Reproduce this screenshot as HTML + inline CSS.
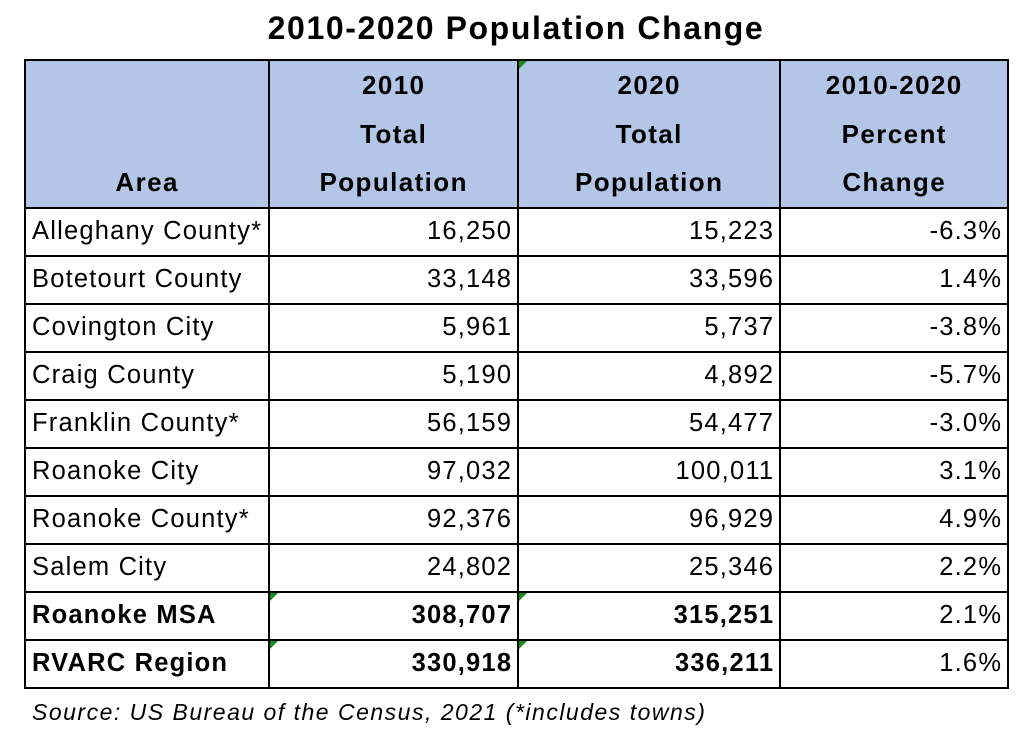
<!DOCTYPE html>
<html><head><meta charset="utf-8"><style>
body{margin:0;width:1032px;height:731px;background:#fff;position:relative;overflow:hidden;font-family:"Gill Sans","Liberation Sans",sans-serif;color:#000}
#title{position:absolute;left:0;width:1032px;top:9px;text-align:center;font-weight:bold;font-size:32px;letter-spacing:1.6px;line-height:38px}
table{position:absolute;left:24px;top:59px;border-collapse:collapse;table-layout:fixed;border:2.5px solid #000}
td,th{border:2px solid #000;padding:0 6px;font-size:25.5px;letter-spacing:1.2px;height:46px;position:relative;white-space:nowrap}
td.n{padding-right:5px}
th{background:#b4c6e7;font-weight:bold;text-align:center;vertical-align:bottom;line-height:48.5px;height:144px;padding-bottom:0;font-size:26px;letter-spacing:1.4px}
td.n{text-align:right}
tr.b td{font-weight:bold}
.tri{position:absolute;left:0;top:0;width:0;height:0;border-top:8px solid #1a8a1a;border-right:8px solid transparent}
#src{position:absolute;left:32px;top:699px;font-style:italic;font-size:23px;letter-spacing:1.5px}
</style></head><body>
<div id="title">2010-2020 Population Change</div>
<table>
<colgroup><col style="width:243px"><col style="width:249px"><col style="width:262px"><col style="width:228px"></colgroup>
<tr><th>Area</th><th>2010<br>Total<br>Population</th><th><span class="tri"></span>2020<br>Total<br>Population</th><th>2010-2020<br>Percent<br>Change</th></tr>
<tr><td>Alleghany County*</td><td class="n">16,250</td><td class="n">15,223</td><td class="n">-6.3%</td></tr>
<tr><td>Botetourt County</td><td class="n">33,148</td><td class="n">33,596</td><td class="n">1.4%</td></tr>
<tr><td>Covington City</td><td class="n">5,961</td><td class="n">5,737</td><td class="n">-3.8%</td></tr>
<tr><td>Craig County</td><td class="n">5,190</td><td class="n">4,892</td><td class="n">-5.7%</td></tr>
<tr><td>Franklin County*</td><td class="n">56,159</td><td class="n">54,477</td><td class="n">-3.0%</td></tr>
<tr><td>Roanoke City</td><td class="n">97,032</td><td class="n">100,011</td><td class="n">3.1%</td></tr>
<tr><td>Roanoke County*</td><td class="n">92,376</td><td class="n">96,929</td><td class="n">4.9%</td></tr>
<tr><td>Salem City</td><td class="n">24,802</td><td class="n">25,346</td><td class="n">2.2%</td></tr>
<tr class="b"><td>Roanoke MSA</td><td class="n"><span class="tri"></span>308,707</td><td class="n"><span class="tri"></span>315,251</td><td class="n" style="font-weight:normal">2.1%</td></tr>
<tr class="b"><td>RVARC Region</td><td class="n"><span class="tri"></span>330,918</td><td class="n"><span class="tri"></span>336,211</td><td class="n" style="font-weight:normal">1.6%</td></tr>
</table>
<div id="src">Source: US Bureau of the Census, 2021 (*includes towns)</div>
</body></html>
